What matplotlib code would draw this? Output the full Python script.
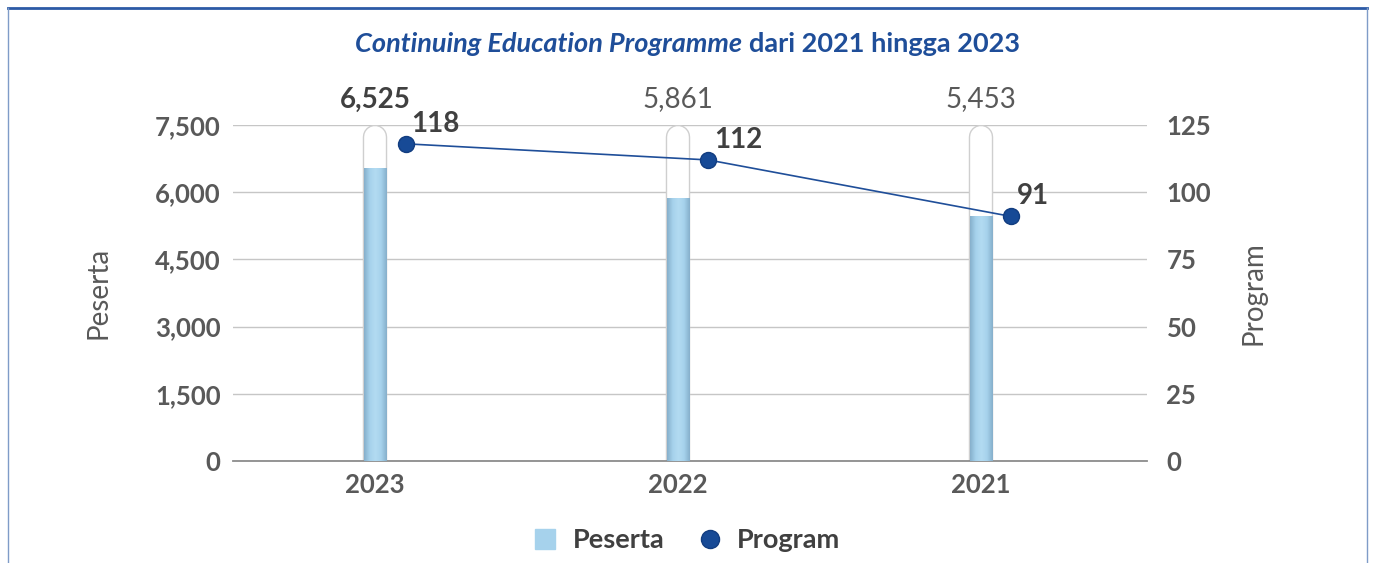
import matplotlib.pyplot as plt
import numpy as np
from matplotlib.lines import Line2D
from matplotlib.offsetbox import TextArea, HPacker, AnnotationBbox
from matplotlib.colors import LinearSegmentedColormap

plt.rcParams['font.family'] = ['Lato', 'DejaVu Sans']

years = ['2023', '2022', '2021']
peserta = [6525, 5861, 5453]
program = [118, 112, 91]

GREY = '#595959'
DARK = '#404040'
BLUE = '#1f4e99'
FS = 18.5

fig = plt.figure(figsize=(13.75, 5.63), dpi=100)
ax = fig.add_axes([0.1695, 0.1812, 0.6647, 0.5968])
ax2 = ax.twinx()

x = np.arange(len(years))
w = 0.073
ymax = 7500

# capsule backgrounds
for xi in x:
    ax.plot([xi, xi], [-500, ymax - 260], color='#cfcfcf', lw=17.6,
            solid_capstyle='round', zorder=2)
    ax.plot([xi, xi], [-500, ymax - 260], color='white', lw=15.6,
            solid_capstyle='round', zorder=2.1)

# filled part with a horizontal gradient
cmap = LinearSegmentedColormap.from_list('bar', ['#86afcb', '#a6d2ec', '#b3dbf2', '#a6d2ec', '#86afcb'])
grad = np.linspace(0, 1, 64).reshape(1, -1)
for xi, v in zip(x, peserta):
    ax.imshow(grad, extent=[xi - w / 2, xi + w / 2, 0, v], aspect='auto',
              cmap=cmap, zorder=3, interpolation='bicubic')

for i, (xi, v) in enumerate(zip(x, peserta)):
    ax.annotate(f'{v:,}', (xi, ymax), xytext=(0, 9), textcoords='offset points',
                ha='center', va='bottom', fontsize=20,
                fontweight='bold' if i == 0 else 'normal',
                color=DARK if i == 0 else GREY, annotation_clip=False)

ax.set_xlim(-0.47, 2.55)
ax.set_ylim(0, ymax)
yt = np.arange(0, 7501, 1500)
ax.set_yticks(yt)
ax.set_yticklabels([f'{t:,}' for t in yt], fontweight='bold', fontsize=FS, color=GREY)
ax.set_xticks(x)
ax.set_xticklabels(years, fontweight='bold', fontsize=FS, color=GREY)
ax.grid(axis='y', color='#c6c6c6', lw=1)
ax.set_axisbelow(True)
for s in ['top', 'right', 'left']:
    ax.spines[s].set_visible(False)
ax.spines['bottom'].set_color('#8c8c8c')
ax.spines['bottom'].set_linewidth(1.3)
ax.tick_params(axis='both', length=0, pad=9)
ax.set_ylabel('Peserta', fontsize=20, color=GREY, labelpad=31)

# program line
px = x + 0.1
ax2.plot(px, program, color=BLUE, lw=1.2, marker='o', markersize=11.5,
         markerfacecolor='#174a96', markeredgecolor='#123d80', zorder=5)
for xi, v in zip(px, program):
    ax2.annotate(str(v), (xi, v), xytext=(4, 5), textcoords='offset points',
                 ha='left', va='bottom', fontsize=20, fontweight='bold', color=DARK)
ax2.set_ylim(0, 125)
rt = np.arange(0, 126, 25)
ax2.set_yticks(rt)
ax2.set_yticklabels([str(t) for t in rt], fontweight='bold', fontsize=FS, color=GREY)
for s in ['top', 'right', 'left', 'bottom']:
    ax2.spines[s].set_visible(False)
ax2.tick_params(axis='y', length=0, pad=14)
ax2.set_ylabel('Program', fontsize=20, color=GREY, labelpad=21)

# title: italic part then regular part
t1 = TextArea('Continuing Education Programme',
              textprops=dict(fontsize=19.5, fontweight='bold', fontstyle='italic', color=BLUE))
t2 = TextArea('dari 2021 hingga 2023',
              textprops=dict(fontsize=19.5, fontweight='bold', color=BLUE))
box = HPacker(children=[t1, t2], align='baseline', pad=0, sep=5)
fig.add_artist(AnnotationBbox(box, (0.5, 0.922), xycoords='figure fraction',
                              frameon=False, box_alignment=(0.5, 0.5)))

# legend
handles = [Line2D([], [], ls='none', marker='s', markersize=14,
                  markerfacecolor='#a6d2ec', markeredgecolor='#a6d2ec'),
           Line2D([], [], ls='none', marker='o', markersize=13,
                  markerfacecolor='#174a96', markeredgecolor='#123d80')]
leg = fig.legend(handles, ['Peserta', 'Program'], loc='center', ncol=2,
                 bbox_to_anchor=(0.5, 0.04), frameon=False,
                 prop=dict(size=19.5, weight='bold'),
                 handlelength=0.8, handletextpad=0.6, columnspacing=1.3)
for t in leg.get_texts():
    t.set_color(DARK)

# outer frame
fig.add_artist(Line2D([0.006, 0.9945], [0.986, 0.986], color='#2c5aa6', lw=2))
fig.add_artist(Line2D([0.006, 0.006], [0, 0.986], color='#7f9cc8', lw=1))
fig.add_artist(Line2D([0.9945, 0.9945], [0, 0.986], color='#7f9cc8', lw=1))

fig.savefig('out.png', dpi=100)
